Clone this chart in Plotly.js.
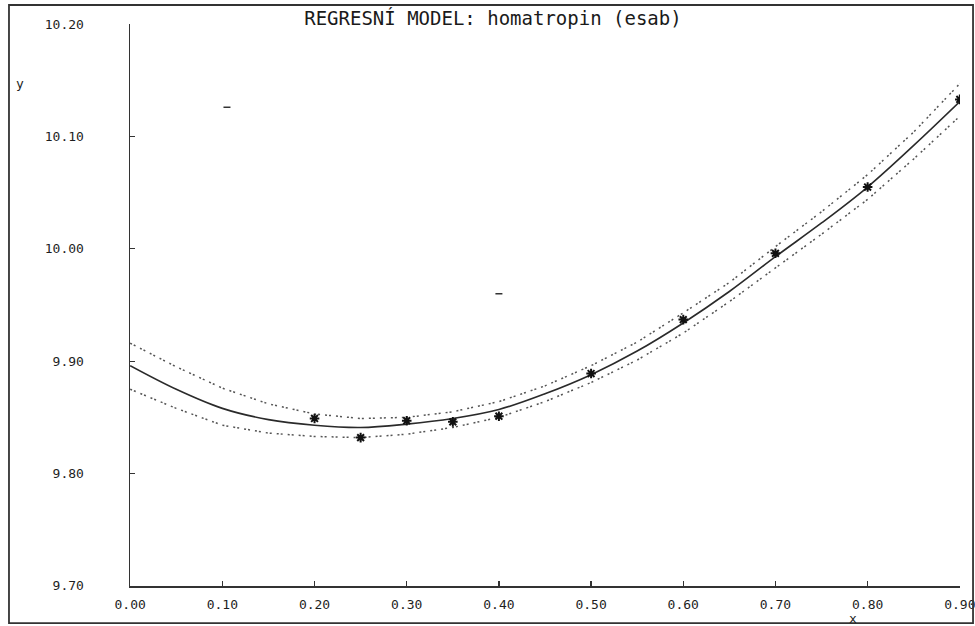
<!DOCTYPE html>
<html>
<head>
<meta charset="utf-8">
<script src="https://cdn.plot.ly/plotly-3.0.1.min.js"></script>
<style>html,body{margin:0;padding:0;background:#fff;}#chart{width:975px;height:626px;}</style>
</head>
<body>
<div id="chart"></div>
<script>
// Measured data points
const dataX = [0.20, 0.25, 0.30, 0.35, 0.40, 0.50, 0.60, 0.70, 0.80, 0.90];
const dataY = [9.849, 9.832, 9.847, 9.846, 9.851, 9.889, 9.937, 9.996, 10.055, 10.133];

// Isolated marks (stray points)
const strayX = [0.105, 0.40];
const strayY = [10.126, 9.960];

// Regression curve and confidence band
const gridX  = [0, 0.05, 0.10, 0.15, 0.20, 0.25, 0.30, 0.35, 0.40, 0.45, 0.50, 0.55, 0.60, 0.65, 0.70, 0.75, 0.80, 0.85, 0.90];
const fitY   = [9.896, 9.875, 9.858, 9.848, 9.843, 9.841, 9.844, 9.849, 9.857, 9.871, 9.888, 9.909, 9.934, 9.962, 9.993, 10.023, 10.055, 10.092, 10.131];
const upperY = [9.916, 9.895, 9.876, 9.862, 9.853, 9.849, 9.850, 9.855, 9.864, 9.878, 9.896, 9.917, 9.943, 9.970, 10.002, 10.033, 10.066, 10.104, 10.147];
const lowerY = [9.875, 9.858, 9.843, 9.836, 9.833, 9.832, 9.835, 9.841, 9.850, 9.864, 9.881, 9.901, 9.925, 9.953, 9.983, 10.013, 10.044, 10.080, 10.118];

const xTicks = [0, 0.1, 0.2, 0.3, 0.4, 0.5, 0.6, 0.7, 0.8, 0.9];
const xTickText = ["0.00", "0.10", "0.20", "0.30", "0.40", "0.50", "0.60", "0.70", "0.80", "0.90"];
const yTicks = [9.7, 9.8, 9.9, 10.0, 10.1, 10.2];
const yTickText = ["9.70", "9.80", "9.90", "10.00", "10.10", "10.20"];

const titleText = "REGRESNÍ MODEL: homatropin (esab)";

const ink = "#1e1e1e";
const FONT = "DejaVu Sans Mono, monospace";

const traces = [
  {x: gridX, y: upperY, mode: "lines", line: {color: "#555", width: 1.5, dash: "2px,2px,2px,5px"}, hoverinfo: "skip"},
  {x: gridX, y: lowerY, mode: "lines", line: {color: "#555", width: 1.5, dash: "2px,2px,2px,5px"}, hoverinfo: "skip"},
  {x: gridX, y: fitY, mode: "lines", line: {color: "#2a2a2a", width: 1.6, shape: "spline"}},
  {x: dataX, y: dataY, mode: "markers", marker: {symbol: "asterisk-open", size: 8, line: {color: "#111", width: 2}, color: "#111"}},
  {x: strayX, y: strayY, mode: "markers", marker: {symbol: "line-ew-open", size: 5, color: "#333", line: {color: "#333", width: 1.5}}}
];

const layout = {
  width: 975, height: 626,
  margin: {l: 130, r: 15, t: 24, b: 40},
  paper_bgcolor: "#fff", plot_bgcolor: "#fff",
  showlegend: false,
  font: {family: FONT, size: 13, color: ink},
  title: {text: titleText, x: 0.5056, y: 0.971, xanchor: "center", yanchor: "middle", xref: "container", yref: "container",
          font: {family: FONT, size: 19, color: "#1a1a1a"}},
  xaxis: {
    range: [-0.0002, 0.9002], tickvals: xTicks, ticktext: xTickText,
    showgrid: false, zeroline: false, showline: true, linecolor: "#333", linewidth: 1.5,
    ticks: "inside", ticklen: 5, tickwidth: 1.3, tickcolor: "#333",
    tickfont: {family: FONT, size: 13, color: ink}, ticklabelstandoff: 6,
    ticklabeloverflow: "allow"
  },
  yaxis: {
    range: [9.6999, 10.2001], tickvals: yTicks, ticktext: yTickText,
    showgrid: false, zeroline: false, showline: true, linecolor: "#333", linewidth: 1.5,
    ticks: "inside", ticklen: 5, tickwidth: 1.3, tickcolor: "#333",
    tickfont: {family: FONT, size: 13, color: ink}, ticklabelstandoff: 42
  },
  annotations: [
    {text: "y", xref: "paper", yref: "paper", x: -0.1325, y: 0.895, showarrow: false, xanchor: "center", yanchor: "middle", font: {family: FONT, size: 13, color: ink}},
    {text: "x", xref: "paper", yref: "paper", x: 0.871, y: -0.0570, showarrow: false, xanchor: "center", yanchor: "middle", font: {family: FONT, size: 13, color: ink}}
  ],
  shapes: [
    {type: "rect", xref: "paper", yref: "paper", x0: -0.1458, x1: 1.0157, y0: -0.066, y1: 1.0338, line: {color: "#333", width: 1.8}}
  ]
};

Plotly.newPlot("chart", traces, layout, {displayModeBar: false, staticPlot: true});
</script>
</body>
</html>
